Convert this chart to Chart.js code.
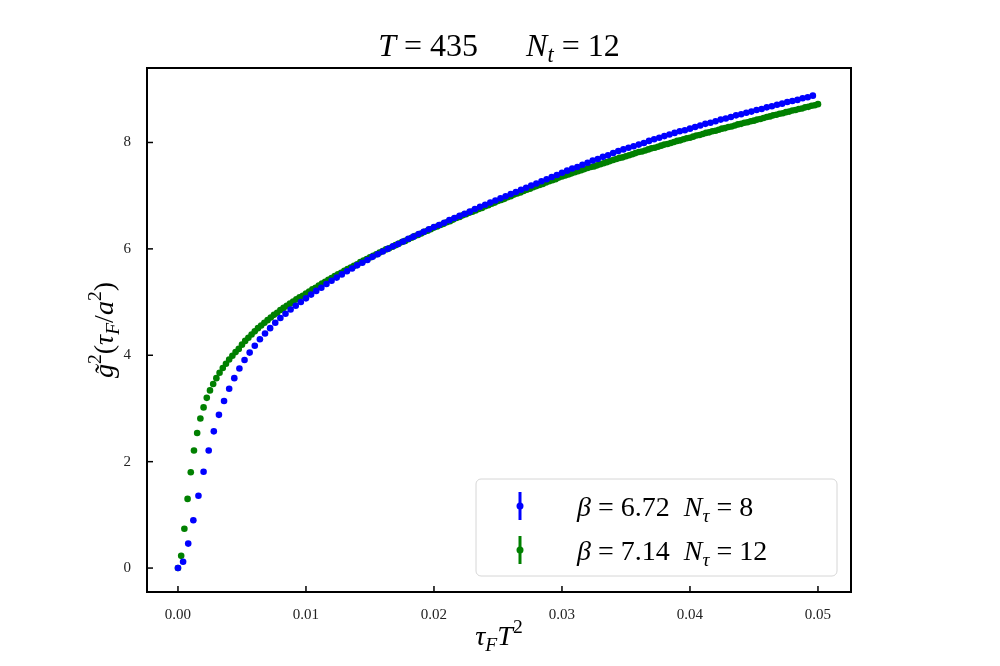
<!DOCTYPE html>
<html>
<head>
<meta charset="utf-8">
<script src="https://cdn.jsdelivr.net/npm/chart.js@4.4.1/dist/chart.umd.min.js"></script>
<style>
  html, body { margin: 0; padding: 0; background: #fff; }
  #wrap { width: 1000px; height: 666px; }
</style>
</head>
<body>
<div id="wrap"><canvas id="c" width="1000" height="666"></canvas></div>
<script>
// flow-time grid spacing in tau_F T^2 for each lattice
const BLUE_STEP = 0.0004;
const GREEN_STEP = 0.00025;

const blueG2 = [
  0, 0.12, 0.46, 0.90, 1.36, 1.81, 2.21, 2.57, 2.88, 3.14, 3.37, 3.57, 3.75, 3.91, 4.05, 4.18, 4.30, 4.41, 4.51, 4.61,
  4.70, 4.78, 4.86, 4.93, 5.00, 5.07, 5.14, 5.21, 5.27, 5.34, 5.40, 5.46, 5.52, 5.58, 5.63, 5.69, 5.74, 5.79, 5.85, 5.90,
  5.95, 6.00, 6.05, 6.09, 6.14, 6.19, 6.23, 6.28, 6.32, 6.37, 6.41, 6.45, 6.49, 6.54, 6.58, 6.62, 6.66, 6.70, 6.75, 6.79,
  6.83, 6.87, 6.91, 6.95, 6.99, 7.03, 7.07, 7.11, 7.15, 7.19, 7.23, 7.27, 7.31, 7.35, 7.39, 7.43, 7.47, 7.51, 7.54, 7.58,
  7.62, 7.66, 7.69, 7.73, 7.76, 7.80, 7.84, 7.87, 7.90, 7.93, 7.96, 7.99, 8.03, 8.06, 8.09, 8.12, 8.15, 8.18, 8.21, 8.23,
  8.26, 8.29, 8.32, 8.35, 8.37, 8.40, 8.43, 8.45, 8.48, 8.51, 8.53, 8.56, 8.58, 8.61, 8.63, 8.66, 8.68, 8.71, 8.73, 8.76,
  8.78, 8.80, 8.83, 8.85, 8.88
];

const greenG2 = [
  0, 0.23, 0.74, 1.30, 1.80, 2.21, 2.54, 2.81, 3.02, 3.20, 3.34, 3.46, 3.57, 3.67, 3.76, 3.84, 3.92, 3.99, 4.06, 4.12,
  4.20, 4.27, 4.33, 4.39, 4.45, 4.51, 4.56, 4.61, 4.66, 4.71, 4.76, 4.80, 4.85, 4.89, 4.93, 4.97, 5.01, 5.05, 5.09, 5.12,
  5.16, 5.20, 5.24, 5.27, 5.31, 5.35, 5.38, 5.42, 5.45, 5.49, 5.52, 5.55, 5.59, 5.62, 5.65, 5.68, 5.71, 5.75, 5.78, 5.81,
  5.84, 5.87, 5.90, 5.93, 5.96, 5.99, 6.01, 6.04, 6.07, 6.10, 6.13, 6.15, 6.18, 6.21, 6.24, 6.26, 6.29, 6.32, 6.34, 6.37,
  6.40, 6.42, 6.45, 6.47, 6.50, 6.52, 6.55, 6.58, 6.60, 6.63, 6.65, 6.68, 6.70, 6.72, 6.75, 6.77, 6.80, 6.82, 6.85, 6.87,
  6.90, 6.92, 6.94, 6.97, 6.99, 7.02, 7.04, 7.06, 7.09, 7.11, 7.13, 7.16, 7.18, 7.20, 7.22, 7.25, 7.27, 7.29, 7.31, 7.34,
  7.36, 7.38, 7.40, 7.42, 7.44, 7.46, 7.48, 7.50, 7.52, 7.54, 7.55, 7.57, 7.59, 7.61, 7.63, 7.65, 7.67, 7.69, 7.71, 7.72,
  7.74, 7.76, 7.78, 7.80, 7.82, 7.83, 7.85, 7.87, 7.89, 7.90, 7.92, 7.94, 7.96, 7.97, 7.99, 8.01, 8.03, 8.04, 8.06, 8.08,
  8.09, 8.11, 8.13, 8.14, 8.16, 8.18, 8.19, 8.21, 8.22, 8.24, 8.26, 8.27, 8.29, 8.30, 8.32, 8.34, 8.35, 8.37, 8.38, 8.40,
  8.41, 8.43, 8.44, 8.46, 8.48, 8.49, 8.51, 8.52, 8.54, 8.55, 8.57, 8.58, 8.60, 8.61, 8.63, 8.64, 8.66, 8.67, 8.69, 8.70,
  8.72
];

const xTicks = [0, 0.01, 0.02, 0.03, 0.04, 0.05];
const yTicks = [0, 2, 4, 6, 8];
const legendLabels = [
  { beta: "6.72", nt: "8", color: "#0000ff" },
  { beta: "7.14", nt: "12", color: "#008000" },
];

const SERIF = "'Liberation Serif', 'DejaVu Serif', serif";

function toPoints(ys, step) {
  return ys.map((y, i) => ({ x: i * step, y }));
}

// draw a run of text pieces: [text, italic, sizeScale, dy]
function drawRich(ctx, x, y, parts, size) {
  let cx = x;
  parts.forEach(([t, it, sc = 1, dy = 0]) => {
    ctx.font = `${it ? "italic " : ""}${size * sc}px ${SERIF}`;
    ctx.fillText(t, cx, y + dy);
    cx += ctx.measureText(t).width;
  });
  return cx - x;
}
function richWidth(ctx, parts, size) {
  let w = 0;
  parts.forEach(([t, it, sc = 1]) => {
    ctx.font = `${it ? "italic " : ""}${size * sc}px ${SERIF}`;
    w += ctx.measureText(t).width;
  });
  return w;
}

const decorations = {
  id: "decorations",
  afterDraw(chart) {
    const { ctx, chartArea: a, scales } = chart;
    ctx.save();
    ctx.fillStyle = "#000";
    ctx.strokeStyle = "#000";
    // frame
    ctx.lineWidth = 2;
    ctx.strokeRect(a.left, a.top, a.right - a.left, a.bottom - a.top);
    // inward ticks
    ctx.lineWidth = 1.5;
    xTicks.forEach((v) => {
      const px = scales.x.getPixelForValue(v);
      ctx.beginPath(); ctx.moveTo(px, a.bottom); ctx.lineTo(px, a.bottom - 6); ctx.stroke();
    });
    yTicks.forEach((v) => {
      const py = scales.y.getPixelForValue(v);
      ctx.beginPath(); ctx.moveTo(a.left, py); ctx.lineTo(a.left + 6, py); ctx.stroke();
    });

    ctx.textBaseline = "alphabetic";
    // title
    const title = [["T", true], [" = 435      ", false], ["N", true], ["t", true, 0.7, 6], [" = 12", false]];
    const tw = richWidth(ctx, title, 32);
    drawRich(ctx, (a.left + a.right) / 2 - tw / 2, 56, title, 32);

    // x label
    const xl = [["τ", true], ["F", true, 0.7, 6], ["T", true], ["2", false, 0.7, -12]];
    const xw = richWidth(ctx, xl, 28);
    drawRich(ctx, (a.left + a.right) / 2 - xw / 2, 645, xl, 28);

    // y label
    ctx.save();
    ctx.translate(113, (a.top + a.bottom) / 2);
    ctx.rotate(-Math.PI / 2);
    const yl = [["g̃", true], ["2", false, 0.7, -12], ["(", false], ["τ", true], ["F", true, 0.7, 6],
      ["/", false], ["a", true], ["2", false, 0.7, -12], [")", false]];
    const yw = richWidth(ctx, yl, 28);
    drawRich(ctx, -yw / 2, 0, yl, 28);
    ctx.restore();

    // legend
    const lx = 476, ly = 479, lw = 361, lh = 97;
    ctx.fillStyle = "rgba(255,255,255,0.8)";
    ctx.strokeStyle = "#d6d6d6";
    ctx.lineWidth = 1;
    ctx.beginPath();
    ctx.roundRect(lx, ly, lw, lh, 5);
    ctx.fill(); ctx.stroke();
    legendLabels.forEach((e, i) => {
      const cy = ly + 27 + i * 44;
      ctx.strokeStyle = e.color; ctx.fillStyle = e.color;
      ctx.lineWidth = 3;
      ctx.beginPath(); ctx.moveTo(520, cy - 14); ctx.lineTo(520, cy + 14); ctx.stroke();
      ctx.beginPath(); ctx.arc(520, cy, 3.5, 0, Math.PI * 2); ctx.fill();
      ctx.fillStyle = "#000";
      drawRich(ctx, 577, cy + 10, [["β", true], [" = " + e.beta + "  ", false], ["N", true], ["τ", true, 0.7, 6], [" = " + e.nt, false]], 28);
    });
    ctx.restore();
  },
};

new Chart(document.getElementById("c"), {
  type: "scatter",
  data: {
    datasets: [
      { data: toPoints(blueG2, BLUE_STEP), backgroundColor: "#0000ff", borderWidth: 0, pointRadius: 3.3 },
      { data: toPoints(greenG2, GREEN_STEP), backgroundColor: "#008000", borderWidth: 0, pointRadius: 3.3 },
    ],
  },
  options: {
    responsive: false,
    animation: false,
    devicePixelRatio: 1,
    layout: { padding: { left: 0, right: 149, top: 68, bottom: 0 } },
    plugins: { legend: { display: false }, tooltip: { enabled: false } },
    scales: {
      x: {
        type: "linear", min: -0.00242, max: 0.05258,
        afterBuildTicks: (s) => { s.ticks = xTicks.map((v) => ({ value: v })); },
        grid: { display: false }, border: { display: false },
        ticks: { color: "#222", font: { family: SERIF, size: 15 }, padding: 6, callback: (v) => v.toFixed(2) },
        afterFit: (s) => { s.height = 74; },
      },
      y: {
        type: "linear", min: -0.45, max: 9.40,
        afterBuildTicks: (s) => { s.ticks = yTicks.map((v) => ({ value: v })); },
        grid: { display: false }, border: { display: false },
        ticks: { color: "#222", font: { family: SERIF, size: 15 }, padding: 8 },
        afterFit: (s) => { s.width = 147; },
      },
    },
  },
  plugins: [decorations],
});
</script>
</body>
</html>
